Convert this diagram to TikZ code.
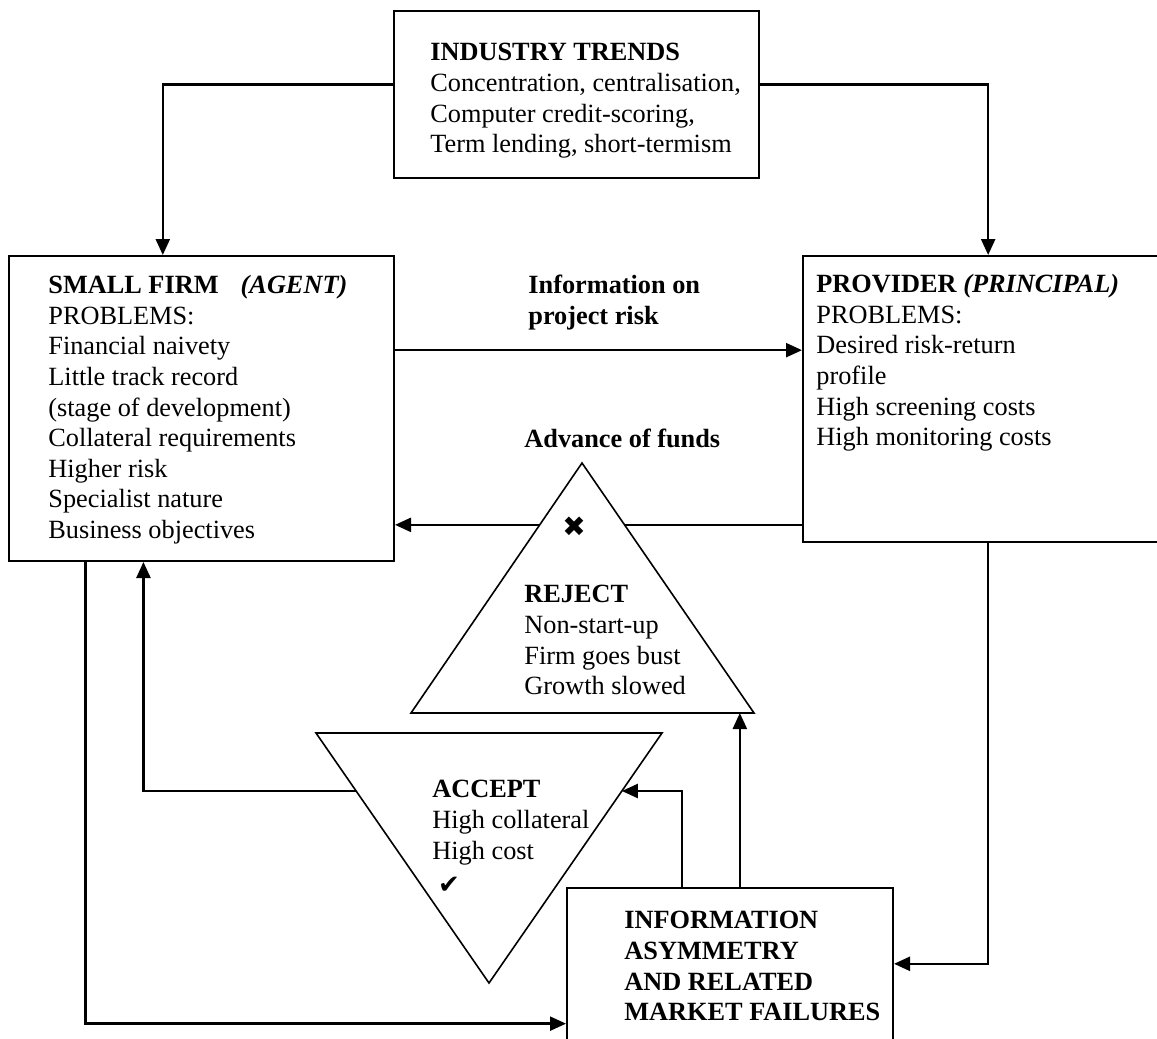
\documentclass[tikz,border=0pt]{standalone}
\usepackage{fontspec}
\setmainfont{Liberation Serif}
\newfontfamily\symfont{DejaVu Sans}
\usetikzlibrary{arrows.meta, calc}

\tikzset{
  box/.style={draw, line width=1pt, inner sep=0pt, anchor=north west},
  tri/.style={draw, line width=0.8pt, fill=white},
  txt/.style={anchor=north west, inner sep=0pt, align=left, font=\fontsize{13.15}{15.3}\selectfont},
  btxt/.style={txt, font=\fontsize{13.15}{15.3}\selectfont\bfseries},
  arr/.style={-{Triangle[length=8pt,width=7pt]}, line width=1.2pt},
}

\begin{document}
\begin{tikzpicture}[x=0.5pt, y=-0.5pt]
  \useasboundingbox (0,0) rectangle (1157,1039);
  % Boxes
  \node[box, minimum width=182.5pt, minimum height=83.5pt] (trend) at (393,10) {};
  \node[box, minimum width=192.5pt, minimum height=152.5pt] (firm) at (8,255) {};
  \node[box, minimum width=178pt, minimum height=143pt] (prov) at (802,255) {};
  \node[box, minimum width=163pt, minimum height=79pt] (info) at (566,887) {};
  % Box texts
  \node[txt] (trendtxt) at (430,43) {\textbf{INDUSTRY TRENDS}\\Concentration, centralisation,\\Computer credit-scoring,\\Term lending, short-termism};
  \node[txt] (firmtxt) at (48,275) {\textbf{SMALL FIRM}\hspace{0.84em}\textbf{\textit{(AGENT)}}\\PROBLEMS:\\Financial naivety\\Little track record\\(stage of development)\\Collateral requirements\\Higher risk\\Specialist nature\\Business objectives};
  \node[txt] (provtxt) at (816,274) {\textbf{PROVIDER \textit{(PRINCIPAL)}}\\PROBLEMS:\\Desired risk-return\\profile\\High screening costs\\High monitoring costs};
  \node[btxt] (infotxt) at (624,911) {INFORMATION\\ASYMMETRY\\AND RELATED\\MARKET FAILURES};
  % Industry trends to both parties
  \draw[arr] ($(trend.north west)!.44!(trend.south west)$) -| ($(firm.north west)!.4!(firm.north east)$);
  \draw[arr] ($(trend.north east)!.44!(trend.south east)$) -| ($(prov.north west)!.52!(prov.north east)$);
  % Information flow
  \draw[arr] ($(firm.north east)!.31!(firm.south east)$) coordinate (riskA) -- (riskA -| prov.west);
  \node[btxt] (risklbl) at (528,275) {Information on\\project risk};
  % Advance of funds (behind the triangle)
  \draw[arr] ($(prov.north west)!.937!(prov.south west)$) coordinate (fundA) -- (fundA -| firm.east);
  \node[btxt] (fundlbl) at (524,429) {Advance of funds};
  % Reject triangle
  \coordinate (rejT) at (582,463);
  \coordinate (rejL) at (411,713);
  \coordinate (rejR) at (754,713);
  \draw[tri] (rejT) -- (rejL) -- (rejR) -- cycle;
  \node (cross) at (574,527) {\symfont\fontsize{14}{14}\selectfont ✖};
  \node[txt] (rejtxt) at (524,585) {\textbf{REJECT}\\Non-start-up\\Firm goes bust\\Growth slowed};
  % Accept triangle
  \coordinate (accL) at (316,733);
  \coordinate (accR) at (662,733);
  \coordinate (accB) at (489,983);
  \draw[tri] (accL) -- (accR) -- (accB) -- cycle;
  \node[txt] (acctxt) at (432,780) {\textbf{ACCEPT}\\High collateral\\High cost};
  \node (tick) at (449,885) {\symfont\fontsize{13}{13}\selectfont ✔};
  % Accept back to the firm
  \draw[arr] ($(accL)!.232!(accB)$) -| ($(firm.south west)!.35!(firm.south east)$);
  % Market failures feed the outcomes
  \draw[arr] ($(info.north west)!.353!(info.north east)$) |- ($(accR)!.232!(accB)$);
  \draw[arr] ($(info.north west)!.53!(info.north east)$) coordinate (infoB) -- (infoB |- rejL);
  % Both parties into market failures
  \draw[arr] ($(firm.south west)!.2!(firm.south east)$) |- ($(info.north west)!.854!(info.south west)$);
  \draw[arr] ($(prov.south west)!.52!(prov.south east)$) |- ($(info.north east)!.48!(info.south east)$);
\end{tikzpicture}
\end{document}
